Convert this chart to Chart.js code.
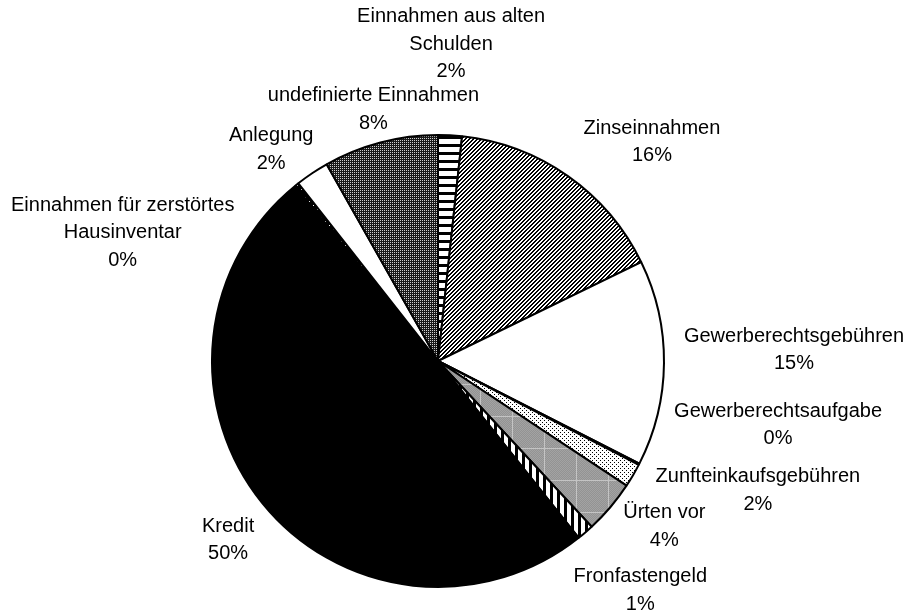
<!DOCTYPE html>
<html>
<head>
<meta charset="utf-8">
<script src="https://cdn.jsdelivr.net/npm/chart.js@4/dist/chart.umd.min.js"></script>
<style>
  html, body { margin: 0; padding: 0; background: #fff; }
  #wrap { width: 908px; height: 616px; }
</style>
</head>
<body>
<div id="wrap"><canvas id="c" width="908" height="616"></canvas></div>
<script>
// Income categories (multi-line names are pre-wrapped)
const categories = [
  ["Einnahmen aus alten", "Schulden"],
  ["Zinseinnahmen"],
  ["Gewerberechtsgebühren"],
  ["Gewerberechtsaufgabe"],
  ["Zunfteinkaufsgebühren"],
  ["Ürten vor"],
  ["Fronfastengeld"],
  ["Kredit"],
  ["Einnahmen für zerstörtes", "Hausinventar"],
  ["Anlegung"],
  ["undefinierte Einnahmen"]
];

// Share of total income, in percent
const shares = [1.7, 16.1, 14.7, 0.1, 1.7, 3.8, 1.2, 49.8, 0.3, 2.4, 8.2];

// Label nudges (px) from each slice's outer mid-point to the centre of its text block
const labelOffsetX = [1, 84, 130, 139, 125, 54, 55, -34, -174, -41, -7];
const labelOffsetY = [-91, -34, -13, -39, 15, 19, 58, 37, 48, -24, -33];

// ---- fill patterns -------------------------------------------------------
function tile(w, h, paint) {
  const c = document.createElement('canvas');
  c.width = w; c.height = h;
  const g = c.getContext('2d');
  paint(g, w, h);
  return document.createElement('canvas').getContext('2d').createPattern(c, 'repeat');
}
const px = (g, x, y, w, h, col) => { g.fillStyle = col; g.fillRect(x, y, w, h); };

const patHorizontal = tile(8, 8, (g) => { px(g, 0, 0, 8, 8, '#fff'); px(g, 0, 0, 8, 3, '#000'); });
const patDiagonal = tile(4, 4, (g) => {
  px(g, 0, 0, 4, 4, '#fff');
  for (let i = 0; i < 4; i++) { px(g, 3 - i, i, 1, 1, '#000'); px(g, (4 - i) % 4, i, 1, 1, '#000'); }
});
const patDots = tile(4, 4, (g) => { px(g, 0, 0, 4, 4, '#fff'); px(g, 0, 0, 1, 1, '#000'); px(g, 2, 2, 1, 1, '#000'); });
const patGrey = tile(32, 32, (g) => {
  for (let y = 0; y < 32; y++) for (let x = 0; x < 32; x++)
    px(g, x, y, 1, 1, (x + y) % 2 ? '#939393' : '#a3a3a3');
  px(g, 0, 0, 32, 1, '#c4c4c4'); px(g, 0, 0, 1, 32, '#c4c4c4');
});
const patVertical = tile(7, 7, (g) => { px(g, 0, 0, 7, 7, '#000'); px(g, 0, 0, 4, 7, '#fff'); });
const patDarkDots = tile(4, 4, (g) => { px(g, 0, 0, 4, 4, '#000'); px(g, 1, 1, 1, 1, '#fff'); });
const patStipple = tile(2, 2, (g) => { px(g, 0, 0, 2, 2, '#1a1a1a'); px(g, 0, 0, 1, 1, '#cfcfcf'); });

const fills = [patHorizontal, patDiagonal, '#fff', '#fff', patDots, patGrey,
               patVertical, '#000', patDarkDots, '#fff', patStipple];

// ---- slice labels ---------------------------------------------------------
const FONT = '20px "Liberation Sans", Arial, sans-serif';
const LINE = 27.5;
const sliceLabels = {
  id: 'sliceLabels',
  afterDatasetsDraw(chart) {
    const ctx = chart.ctx;
    const meta = chart.getDatasetMeta(0);
    const data = chart.data.datasets[0].data;
    const total = data.reduce((a, b) => a + b, 0);
    ctx.save();
    ctx.font = FONT;
    ctx.fillStyle = '#000';
    ctx.textAlign = 'center';
    ctx.textBaseline = 'middle';
    meta.data.forEach((arc, i) => {
      const p = arc.getProps(['x', 'y', 'startAngle', 'endAngle', 'outerRadius'], true);
      const mid = (p.startAngle + p.endAngle) / 2;
      const cx = p.x + Math.cos(mid) * p.outerRadius + labelOffsetX[i];
      const cy = p.y + Math.sin(mid) * p.outerRadius + labelOffsetY[i];
      const lines = chart.data.labels[i].concat([Math.round(data[i] / total * 100) + '%']);
      const top = cy - (lines.length - 1) * LINE / 2;
      lines.forEach((t, k) => ctx.fillText(t, cx, top + k * LINE));
    });
    ctx.restore();
  }
};

new Chart(document.getElementById('c'), {
  type: 'pie',
  data: {
    labels: categories,
    datasets: [{
      data: shares,
      backgroundColor: fills,
      borderColor: '#000',
      borderWidth: 2,
      hoverBorderWidth: 2,
      hoverOffset: 0
    }]
  },
  options: {
    responsive: false,
    animation: false,
    events: [],
    layout: { padding: { left: 211, right: 243, top: 134, bottom: 28 } },
    plugins: { legend: { display: false }, tooltip: { enabled: false } }
  },
  plugins: [sliceLabels]
});
</script>
</body>
</html>
